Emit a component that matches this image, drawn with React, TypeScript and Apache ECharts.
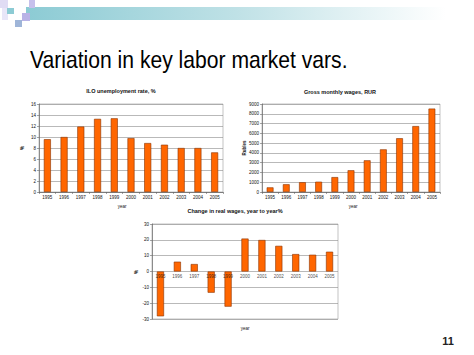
import React, { useEffect, useRef } from "react";
import * as echarts from "echarts";

const years = ["1995", "1996", "1997", "1998", "1999", "2000", "2001", "2002", "2003", "2004", "2005"];
const unemployment = [9.6, 10.0, 11.9, 13.3, 13.4, 9.8, 8.9, 8.6, 8.0, 8.0, 7.2];
const grossWages = [472, 790, 1000, 1052, 1523, 2223, 3240, 4360, 5499, 6740, 8530];
const realWageChange = [-28.3, 6.2, 4.7, -13.4, -22.2, 20.8, 19.9, 16.2, 11.0, 10.6, 12.5];

const mainTitle = "Variation in key labor market vars.";
const chartTitles = ["ILO unemployment rate, %", "Gross monthly wages, RUR", "Change in real wages, year to year%"];
const pageNumber = "11";

const FONT = "'Liberation Sans', Arial, sans-serif";
const BAR = "#FF6600";
const BAR_BORDER = "#8a3300";

export default function App() {
  const ref = useRef<HTMLDivElement>(null);
  useEffect(() => {
    const chart = echarts.init(ref.current!, null, { renderer: "svg" });
    const grids = [
      { left: 39, top: 104, width: 184, height: 88 },
      { left: 262, top: 104, width: 178, height: 88 },
      { left: 152, top: 224, width: 186, height: 95 },
    ];
    const yConf = [
      { min: 0, max: 16, interval: 2, name: "%" },
      { min: 0, max: 9000, interval: 1000, name: "Rubles" },
      { min: -30, max: 30, interval: 10, name: "%" },
    ];
    const data = [unemployment, grossWages, realWageChange];
    const titlePos = [
      { x: 121, y: 88 },
      { x: 340, y: 89 },
      { x: 235, y: 208 },
    ];
    const yearPos = [
      { x: 122, y: 204 },
      { x: 353, y: 204 },
      { x: 245, y: 326 },
    ];
    const yNamePos = [
      { x: 22, y: 148 },
      { x: 244, y: 148 },
      { x: 136, y: 272 },
    ];

    const graphic: any[] = [
      {
        type: "rect",
        shape: { x: 26, y: 7, width: 420, height: 13 },
        style: {
          fill: new echarts.graphic.LinearGradient(0, 0, 1, 0, [
            { offset: 0, color: "#8ccbd4" },
            { offset: 0.5, color: "#bfe1e6" },
            { offset: 1, color: "#ffffff" },
          ]),
        },
        silent: true,
      },
      { type: "rect", shape: { x: 0, y: 0, width: 8, height: 8 }, style: { fill: "#e0dcf4" } },
      { type: "rect", shape: { x: 2, y: 8, width: 6, height: 12 }, style: { fill: "#e8e6f8" } },
      { type: "rect", shape: { x: 7, y: 8, width: 7, height: 6 }, style: { fill: "#8ccbd4" } },
      { type: "rect", shape: { x: 22, y: 13, width: 8, height: 8 }, style: { fill: "#b9b3e6" } },
      { type: "rect", shape: { x: 29, y: 0, width: 6, height: 8 }, style: { fill: "#c6c0ec" } },
      { type: "rect", shape: { x: 15, y: 20, width: 7, height: 7 }, style: { fill: "#9fb5d8" } },
      {
        type: "text",
        x: 30,
        y: 48,
        scaleX: 0.88,
        style: { text: mainTitle, font: `24px ${FONT}`, fill: "#000" },
      },
      {
        type: "text",
        x: 448,
        y: 335,
        style: { text: pageNumber, font: `bold 11px ${FONT}`, fill: "#222", align: "center" },
      },
    ];
    for (let i = 0; i < 3; i++) {
      graphic.push({
        type: "text",
        x: titlePos[i].x,
        y: titlePos[i].y,
        style: { text: chartTitles[i], font: `bold 5.5px ${FONT}`, fill: "#111", align: "center" },
      });
      graphic.push({
        type: "text",
        x: yearPos[i].x,
        y: yearPos[i].y,
        style: { text: "year", font: `4.5px ${FONT}`, fill: "#111", align: "center" },
      });
      graphic.push({
        type: "text",
        x: yNamePos[i].x,
        y: yNamePos[i].y,
        rotation: Math.PI / 2,
        style: { text: yConf[i].name, font: `bold 4.5px ${FONT}`, fill: "#111", align: "center", verticalAlign: "middle" },
      });
    }

    const series: any[] = data.map((d, i) => ({
      type: "bar",
      xAxisIndex: i,
      yAxisIndex: i,
      data: d,
      barWidth: "42%",
      itemStyle: { color: BAR, borderColor: BAR_BORDER, borderWidth: 0.6 },
    }));
    // category labels of the third chart sit on the zero line
    series.push({
      type: "scatter",
      xAxisIndex: 2,
      yAxisIndex: 2,
      data: years.map((y) => [y, 0]),
      symbolSize: 0,
      z: 5,
      label: {
        show: true,
        position: "bottom",
        distance: 2,
        formatter: (p: any) => p.value[0],
        fontSize: 4.5,
        color: "#111",
        fontFamily: FONT,
      },
      silent: true,
    });

    chart.setOption({
      animation: false,
      backgroundColor: "#ffffff",
      textStyle: { fontFamily: FONT },
      grid: grids.map((g) => ({ ...g, show: true, borderColor: "#9a9a9a", borderWidth: 0.6, containLabel: false })),
      xAxis: grids.map((_, i) => ({
        type: "category",
        gridIndex: i,
        data: years,
        axisLine: { show: i < 2, onZero: true, lineStyle: { color: "#666", width: 0.7 } },
        axisTick: { show: i < 2, length: 2, lineStyle: { color: "#666", width: 0.6 } },
        axisLabel: { show: i < 2, fontSize: 4.5, color: "#111", margin: 3, interval: 0 },
      })),
      yAxis: grids.map((_, i) => ({
        type: "value",
        gridIndex: i,
        min: yConf[i].min,
        max: yConf[i].max,
        interval: yConf[i].interval,
        axisLine: { show: true, lineStyle: { color: "#666", width: 0.7 } },
        axisTick: { show: true, length: 2, lineStyle: { color: "#666", width: 0.6 } },
        axisLabel: { fontSize: 4.5, color: "#111", margin: 3, formatter: (v: number) => String(v) },
        splitLine: { show: true, lineStyle: { color: "#8a8a8a", width: 0.6 } },
      })),
      series,
      graphic,
    });
    return () => chart.dispose();
  }, []);
  return (
    <div
      ref={ref}
      style={{ position: "fixed", left: 0, top: 0, width: 474, height: 355 }}
    />
  );
}
